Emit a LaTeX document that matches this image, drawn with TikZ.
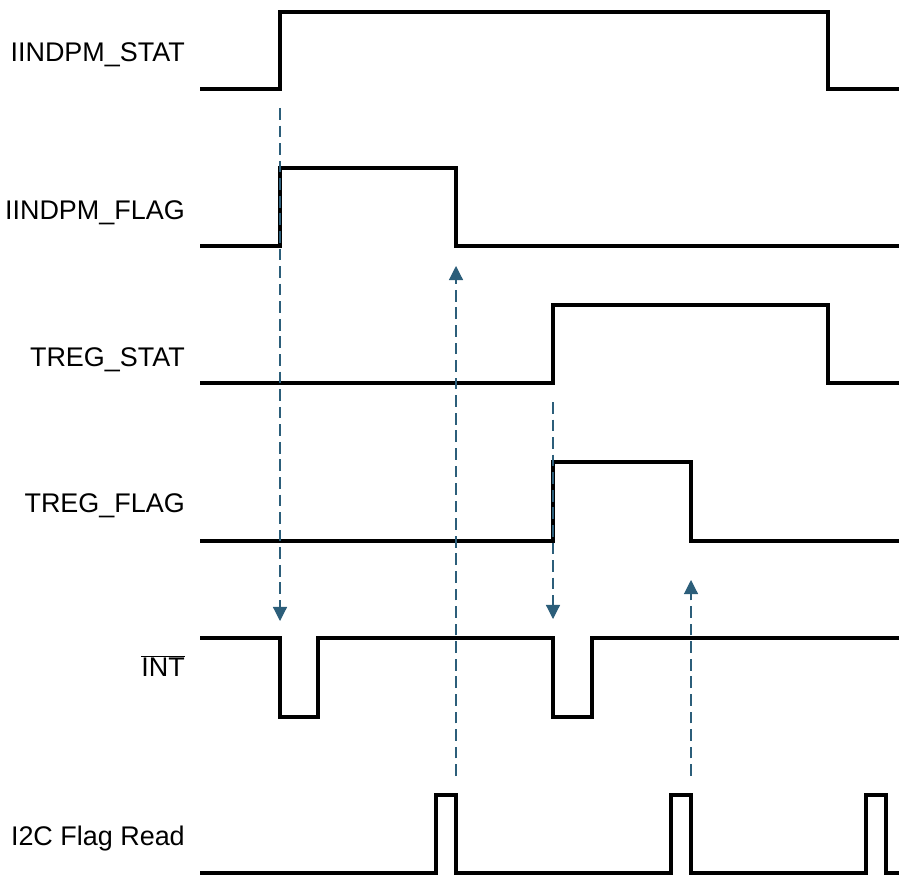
\documentclass[tikz,border=0pt]{standalone}
\usepackage{fontspec}
\setmainfont{Liberation Sans}
\usetikzlibrary{arrows.meta}
\definecolor{cause}{RGB}{44,94,122}
\tikzstyle{sig}=[line width=2.6pt, line join=miter]
\tikzset{signame/.style={anchor=base east, inner sep=0pt, font=\fontsize{23}{27}\selectfont}}
\tikzset{trigger/.style={-{Triangle[width=12pt,length=12pt]}, color=cause, line width=1pt, dash pattern=on 10pt off 5pt}}

\begin{document}
\begin{tikzpicture}[x=0.03cm, y=-0.03cm]
  \useasboundingbox (0,0) rectangle (899,875);
  %% Signal names
  \draw (185,62) node[signame] (nIstat) {IINDPM\_STAT};
  \draw (185,220) node[signame] (nIflag) {IINDPM\_FLAG};
  \draw (185,366) node[signame] (nTstat) {TREG\_STAT};
  \draw (185,512) node[signame] (nTflag) {TREG\_FLAG};
  \draw (185,676) node[signame] (nInt) {$\overline{\hbox{INT}}$};
  \draw (185,845) node[signame] (nI2c) {I2C Flag Read};

  %% Waveforms
  \draw[sig] (200,89) -- (280,89) -- (280,12) -- (828,12) -- (828,89) -- (899,89);
  \draw[sig] (200,246) -- (280,246) -- (280,168) -- (456,168) -- (456,246) -- (899,246);
  \draw[sig] (200,383) -- (553,383) -- (553,305) -- (828,305) -- (828,383) -- (899,383);
  \draw[sig] (200,541) -- (553,541) -- (553,462) -- (691,462) -- (691,541) -- (899,541);
  \draw[sig] (200,638) -- (280,638) -- (280,717) -- (318,717) -- (318,638)
    -- (553,638) -- (553,717) -- (592,717) -- (592,638) -- (899,638);
  \draw[sig] (200,873) -- (436,873) -- (436,795) -- (456,795) -- (456,873)
    -- (671,873) -- (671,795) -- (691,795) -- (691,873)
    -- (866,873) -- (866,795) -- (886,795) -- (886,873) -- (899,873);

  %% Cause and effect
  \coordinate (c1a) at (280,108);
  \coordinate (c1b) at (280,621);
  \coordinate (c2a) at (456,776);
  \coordinate (c2b) at (456,266);
  \coordinate (c3a) at (553,402);
  \coordinate (c3b) at (553,619);
  \coordinate (c4a) at (691,776);
  \coordinate (c4b) at (691,580);
  \draw[trigger] (c1a) -- (c1b);
  \draw[trigger] (c2a) -- (c2b);
  \draw[trigger] (c3a) -- (c3b);
  \draw[trigger] (c4a) -- (c4b);
\end{tikzpicture}
\end{document}
